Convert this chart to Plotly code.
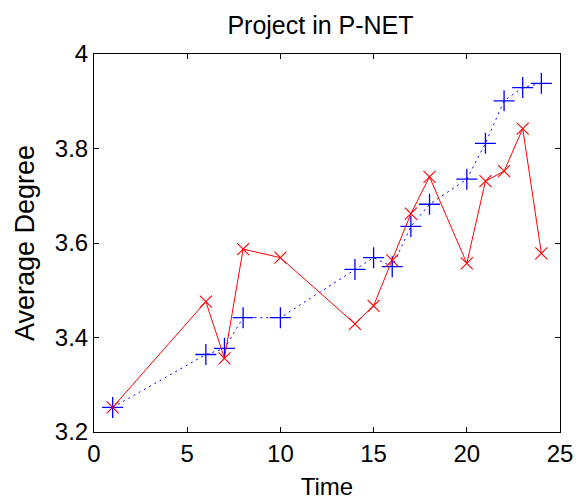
import plotly.graph_objects as go

time = [1, 6, 7, 8, 10, 14, 15, 16, 17, 18, 20, 21, 22, 23, 24]
blue_vals = [3.252, 3.364, 3.377, 3.442, 3.442, 3.544, 3.569, 3.550, 3.635, 3.682, 3.735, 3.811, 3.901, 3.929, 3.938]
red_vals = [3.252, 3.476, 3.356, 3.587, 3.569, 3.429, 3.467, 3.563, 3.662, 3.740, 3.557, 3.731, 3.752, 3.842, 3.578]

x_ticks = [0, 5, 10, 15, 20, 25]
y_ticks = [3.2, 3.4, 3.6, 3.8, 4.0]
y_labels = ["3.2", "3.4", "3.6", "3.8", "4"]

font = "Liberation Sans, Arial, sans-serif"

fig = go.Figure()
fig.add_trace(go.Scatter(
    x=time, y=blue_vals, mode="lines+markers",
    line=dict(color="#0000FF", width=1, dash="2px,4px"),
    marker=dict(symbol="cross-thin-open", size=15, line=dict(color="#0000FF", width=1.3)),
    showlegend=False))
fig.add_trace(go.Scatter(
    x=time, y=red_vals, mode="lines+markers",
    line=dict(color="#FF0000", width=1),
    marker=dict(symbol="x-thin-open", size=12, line=dict(color="#FF0000", width=1.1)),
    showlegend=False))

axis_common = dict(
    showgrid=False, zeroline=False, showline=True, linecolor="black", linewidth=1,
    mirror="ticks", ticks="inside", ticklen=5, tickcolor="black", automargin=False,
    tickfont=dict(family=font, size=24, color="black"),
)
fig.update_xaxes(range=[0, 25], tickvals=x_ticks,
                 title=dict(text="Time", font=dict(family=font, size=24, color="black"), standoff=12),
                 **axis_common)
fig.update_yaxes(range=[3.2, 4.0], tickvals=y_ticks, ticktext=y_labels,
                 title=dict(text="Average Degree", font=dict(family=font, size=27, color="black"), standoff=12),
                 **axis_common)

fig.update_layout(
    width=576, height=501,
    margin=dict(l=94, r=16, t=54, b=69),
    paper_bgcolor="white", plot_bgcolor="white",
    title=dict(text="Project in P-NET", x=0.5564, xanchor="center", y=0.950, yanchor="middle",
               font=dict(family=font, size=25, color="black")),
)

fig.write_html("out.html", config={"displayModeBar": False},
               post_script="document.body.style.margin='0';")
